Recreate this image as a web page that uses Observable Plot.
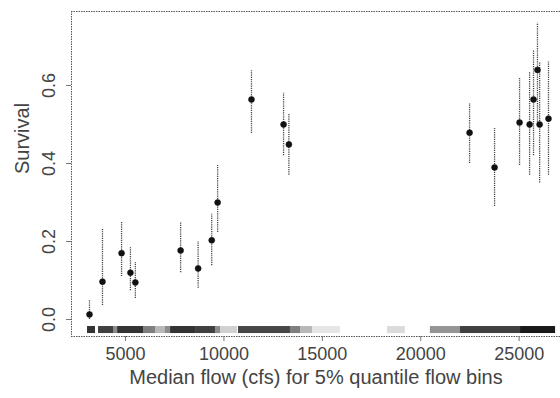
<!DOCTYPE html>
<html>
<head>
<meta charset="utf-8">
<script src="https://cdn.jsdelivr.net/npm/d3@7"></script>
<script src="https://cdn.jsdelivr.net/npm/@observablehq/plot@0.6"></script>
<style>
  html, body { margin: 0; padding: 0; background: #fff; overflow: hidden; }
  svg { display: block; }
</style>
</head>
<body>
<div id="chart"></div>
<script>
// Median flow (cfs) of each 5% quantile flow bin
const flow = [3170, 3830, 4800, 5250, 5500, 7800, 8690, 9380, 9680, 11400, 13030, 13300, 22480, 23750, 25020, 25530, 25730, 25930, 26040, 26490];
// Estimated survival and its interval
const survival = [0.013, 0.097, 0.17, 0.12, 0.095, 0.177, 0.131, 0.203, 0.30, 0.564, 0.50, 0.449, 0.479, 0.39, 0.505, 0.50, 0.564, 0.64, 0.50, 0.515];
const lower = [0.0, 0.036, 0.11, 0.074, 0.054, 0.12, 0.08, 0.138, 0.223, 0.477, 0.42, 0.37, 0.40, 0.29, 0.395, 0.37, 0.42, 0.50, 0.35, 0.37];
const upper = [0.05, 0.233, 0.25, 0.185, 0.146, 0.25, 0.20, 0.27, 0.395, 0.64, 0.58, 0.528, 0.554, 0.49, 0.62, 0.633, 0.69, 0.76, 0.66, 0.66];

// Rug of individual flows, summarised as density bands along the x axis
const rugStart = [3070, 3630, 4390, 4600, 5915, 6525, 7030, 7290, 8560, 9570, 9830, 10740, 13380, 13890, 14500, 18310, 20490, 22020, 25070];
const rugEnd   = [3475, 4390, 4600, 5915, 6525, 7030, 7290, 8560, 9570, 9830, 10690, 13380, 13890, 14500, 15920, 19220, 22020, 25070, 26850];
const rugShade = [0.8, 0.75, 0.45, 0.8, 0.5, 0.28, 0.45, 0.8, 0.75, 0.45, 0.18, 0.72, 0.5, 0.28, 0.1, 0.14, 0.42, 0.75, 0.9];

const xTicks = [5000, 10000, 15000, 20000, 25000];
const yTicks = [0, 0.2, 0.4, 0.6];
const xTitle = "Median flow (cfs) for 5% quantile flow bins";
const yTitle = "Survival";

const pts = flow.map((f, i) => ({flow: f, s: survival[i], lo: lower[i], hi: upper[i]}));
const rug = rugStart.map((a, i) => ({a, b: rugEnd[i], k: rugShade[i]}));

const xDom = [2256, 27100];
const yDom = [-0.0436, 0.7897];
const ink = "#444";
const font = "Liberation Sans, Arial, sans-serif";

const chart = Plot.plot({
  width: 560,
  height: 398,
  marginLeft: 71,
  marginRight: 0,
  marginTop: 11,
  marginBottom: 62,
  style: {fontFamily: font, background: "#fff"},
  x: {domain: xDom},
  y: {domain: yDom},
  marks: [
    Plot.rect(rug, {x1: "a", x2: "b", y1: -0.018, y2: -0.036, fill: "#000", fillOpacity: "k"}),
    Plot.ruleY([yDom[0]], {stroke: "#555", strokeDasharray: "1.5,1"}),
    Plot.ruleY([yDom[1]], {stroke: "#555", strokeDasharray: "1.5,1"}),
    Plot.ruleX([xDom[0]], {stroke: "#555", strokeDasharray: "1.5,1"}),
    Plot.axisX({ticks: xTicks, tickSize: 5, tickPadding: 6, tickFormat: d => String(d), fontSize: 18, fill: ink, stroke: "#777", label: null}),
    Plot.axisY({ticks: yTicks, tickSize: 5, tickFormat: () => "", stroke: "#777", label: null}),
    Plot.text(yTicks, {x: xDom[0], y: d => d, text: d => d.toFixed(1), rotate: -90, dx: -22, fontSize: 18, fill: ink, textAnchor: "middle", lineAnchor: "middle"}),
    Plot.ruleX(pts, {x: "flow", y1: "lo", y2: "hi", stroke: "#444", strokeWidth: 1.3, strokeDasharray: "1.2,1"}),
    Plot.dot(pts, {x: "flow", y: "s", r: 3, fill: "#111", stroke: "#111", strokeWidth: 0.5}),
    Plot.text([xTitle], {frameAnchor: "bottom", dy: 47, fontSize: 20, fill: ink}),
    Plot.text([yTitle], {frameAnchor: "left", dx: -49, rotate: -90, fontSize: 20, fill: ink})
  ]
});
document.getElementById("chart").append(chart);
</script>
</body>
</html>
